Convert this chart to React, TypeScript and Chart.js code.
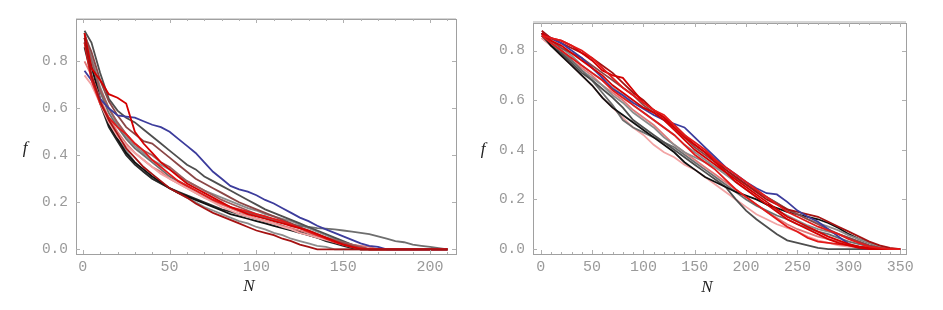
import React, { useEffect, useRef } from "react";
import { Chart, registerables } from "chart.js";
Chart.register(...registerables);

// ---------- data: left panel ----------
const LEFT_N = [1, 5, 10, 15, 20, 25, 30, 35, 40, 45, 50, 55, 60, 65, 70, 75, 80, 85, 90, 95, 100, 105, 110, 115, 120, 125, 130, 135, 140, 145, 150, 155, 160, 165, 170, 175, 180, 185, 190, 195, 200, 205, 210];
const LEFT_END = 210;
const LEFT_X_TICKS = [0, 50, 100, 150, 200];
const LEFT_Y_TICKS = [0, 0.2, 0.4, 0.6, 0.8];

const L_RED_BUMP = [0.92, 0.77, 0.72, 0.66, 0.645, 0.62, 0.5, 0.45, 0.41, 0.37, 0.34, 0.31, 0.28, 0.26, 0.24, 0.22, 0.2, 0.18, 0.165, 0.15, 0.14, 0.13, 0.12, 0.11, 0.1, 0.09, 0.08, 0.065, 0.05, 0.035, 0.02, 0.01, 0];
const L_RED = [0.88, 0.72, 0.62, 0.56, 0.52, 0.49, 0.45, 0.42, 0.38, 0.35, 0.32, 0.29, 0.27, 0.25, 0.23, 0.21, 0.195, 0.18, 0.17, 0.16, 0.15, 0.14, 0.13, 0.12, 0.105, 0.09, 0.075, 0.06, 0.045, 0.03, 0.02, 0.01, 0.005, 0];
const L_DARKRED = [0.9, 0.74, 0.63, 0.55, 0.49, 0.43, 0.39, 0.35, 0.32, 0.29, 0.26, 0.24, 0.22, 0.195, 0.175, 0.155, 0.14, 0.125, 0.11, 0.095, 0.08, 0.07, 0.06, 0.045, 0.035, 0.02, 0.01, 0];
const L_BLUE = [0.76, 0.72, 0.64, 0.6, 0.57, 0.565, 0.56, 0.545, 0.53, 0.52, 0.5, 0.47, 0.44, 0.41, 0.37, 0.33, 0.3, 0.27, 0.255, 0.245, 0.23, 0.21, 0.195, 0.175, 0.155, 0.135, 0.12, 0.1, 0.085, 0.07, 0.055, 0.04, 0.025, 0.015, 0.01, 0];
const L_BROWN = [0.91, 0.84, 0.72, 0.63, 0.57, 0.52, 0.49, 0.46, 0.45, 0.42, 0.39, 0.36, 0.33, 0.3, 0.28, 0.26, 0.24, 0.22, 0.2, 0.185, 0.17, 0.155, 0.14, 0.125, 0.11, 0.095, 0.08, 0.065, 0.05, 0.035, 0.025, 0.015, 0.005, 0];
const L_ROSY = [0.92, 0.8, 0.68, 0.6, 0.54, 0.49, 0.45, 0.42, 0.4, 0.37, 0.35, 0.32, 0.29, 0.27, 0.25, 0.23, 0.21, 0.195, 0.18, 0.165, 0.15, 0.14, 0.125, 0.115, 0.1, 0.09, 0.075, 0.06, 0.05, 0.04, 0.03, 0.02, 0.01, 0];
const L_DARKGRAY = [0.93, 0.88, 0.75, 0.64, 0.59, 0.56, 0.54, 0.51, 0.48, 0.45, 0.42, 0.39, 0.36, 0.34, 0.31, 0.29, 0.27, 0.25, 0.23, 0.21, 0.19, 0.17, 0.155, 0.14, 0.125, 0.11, 0.095, 0.08, 0.065, 0.05, 0.035, 0.02, 0.01, 0];
const L_TAILGRAY = [0.9, 0.8, 0.67, 0.58, 0.52, 0.47, 0.43, 0.4, 0.37, 0.34, 0.31, 0.29, 0.27, 0.25, 0.23, 0.21, 0.195, 0.18, 0.165, 0.155, 0.145, 0.135, 0.125, 0.115, 0.105, 0.1, 0.095, 0.09, 0.088, 0.085, 0.08, 0.075, 0.07, 0.065, 0.055, 0.045, 0.035, 0.03, 0.02, 0.015, 0.01, 0.005, 0];
const L_GRAY2 = [0.92, 0.82, 0.69, 0.6, 0.53, 0.48, 0.44, 0.41, 0.38, 0.36, 0.34, 0.315, 0.29, 0.27, 0.25, 0.235, 0.22, 0.205, 0.19, 0.175, 0.165, 0.15, 0.14, 0.13, 0.12, 0.105, 0.09, 0.075, 0.06, 0.045, 0.03, 0.02, 0.01, 0];
const L_PINK = [0.74, 0.7, 0.62, 0.54, 0.48, 0.44, 0.41, 0.38, 0.35, 0.32, 0.3, 0.28, 0.26, 0.24, 0.22, 0.2, 0.18, 0.165, 0.15, 0.14, 0.13, 0.12, 0.11, 0.095, 0.085, 0.07, 0.06, 0.05, 0.04, 0.03, 0.02, 0.01, 0];
const L_SALMON = [0.8, 0.74, 0.64, 0.56, 0.5, 0.45, 0.41, 0.38, 0.35, 0.33, 0.3, 0.28, 0.26, 0.24, 0.22, 0.205, 0.19, 0.175, 0.16, 0.145, 0.13, 0.12, 0.11, 0.1, 0.09, 0.08, 0.07, 0.055, 0.045, 0.035, 0.025, 0.02, 0.015, 0.01, 0];
const L_BLACK = [0.88, 0.78, 0.64, 0.53, 0.47, 0.41, 0.37, 0.34, 0.31, 0.285, 0.26, 0.24, 0.225, 0.21, 0.195, 0.18, 0.165, 0.15, 0.14, 0.13, 0.12, 0.11, 0.1, 0.09, 0.08, 0.07, 0.06, 0.05, 0.04, 0.03, 0.02, 0.01, 0];
const L_BLACK2 = [0.86, 0.74, 0.62, 0.52, 0.46, 0.4, 0.36, 0.33, 0.3, 0.28, 0.26, 0.245, 0.23, 0.215, 0.2, 0.185, 0.17, 0.16, 0.15, 0.14, 0.13, 0.12, 0.11, 0.1, 0.085, 0.075, 0.06, 0.05, 0.035, 0.025, 0.015, 0.005, 0];
const L_GRAY = [0.9, 0.78, 0.64, 0.54, 0.47, 0.42, 0.37, 0.33, 0.3, 0.28, 0.26, 0.24, 0.22, 0.2, 0.18, 0.165, 0.15, 0.135, 0.12, 0.11, 0.095, 0.085, 0.07, 0.06, 0.045, 0.035, 0.025, 0.015, 0.01, 0];

// ---------- data: right panel ----------
const RIGHT_N = [1, 10, 20, 30, 40, 50, 60, 70, 80, 90, 100, 110, 120, 130, 140, 150, 160, 170, 180, 190, 200, 210, 220, 230, 240, 250, 260, 270, 280, 290, 300, 310, 320, 330, 340, 350];
const RIGHT_END = 350;
const RIGHT_X_TICKS = [0, 50, 100, 150, 200, 250, 300, 350];
const RIGHT_Y_TICKS = [0, 0.2, 0.4, 0.6, 0.8];

const R_RED_BUMP = [0.87, 0.85, 0.84, 0.82, 0.79, 0.76, 0.72, 0.7, 0.69, 0.64, 0.59, 0.56, 0.53, 0.49, 0.45, 0.42, 0.39, 0.35, 0.31, 0.28, 0.25, 0.22, 0.19, 0.16, 0.13, 0.11, 0.09, 0.07, 0.05, 0.035, 0.02, 0.01, 0.005, 0];
const R_RED = [0.87, 0.84, 0.82, 0.79, 0.76, 0.73, 0.7, 0.66, 0.63, 0.6, 0.57, 0.55, 0.52, 0.48, 0.44, 0.4, 0.37, 0.34, 0.31, 0.27, 0.24, 0.21, 0.18, 0.15, 0.12, 0.1, 0.08, 0.06, 0.04, 0.025, 0.015, 0.005, 0];
const R_RED2 = [0.86, 0.83, 0.8, 0.77, 0.74, 0.71, 0.68, 0.64, 0.61, 0.58, 0.55, 0.52, 0.49, 0.46, 0.42, 0.38, 0.35, 0.32, 0.28, 0.24, 0.21, 0.18, 0.15, 0.12, 0.09, 0.07, 0.045, 0.03, 0.025, 0.02, 0.015, 0.01, 0.005, 0];
const R_RED3 = [0.86, 0.85, 0.84, 0.82, 0.8, 0.77, 0.73, 0.69, 0.65, 0.62, 0.59, 0.56, 0.54, 0.5, 0.46, 0.43, 0.4, 0.36, 0.33, 0.3, 0.27, 0.24, 0.21, 0.18, 0.15, 0.13, 0.11, 0.09, 0.075, 0.06, 0.04, 0.025, 0.01, 0.005, 0];
const R_BLUE = [0.87, 0.85, 0.83, 0.8, 0.77, 0.73, 0.69, 0.645, 0.62, 0.59, 0.565, 0.54, 0.52, 0.505, 0.49, 0.45, 0.41, 0.37, 0.33, 0.3, 0.27, 0.245, 0.225, 0.22, 0.19, 0.155, 0.13, 0.11, 0.08, 0.05, 0.02, 0.005, 0];
const R_DARKRED = [0.88, 0.85, 0.83, 0.81, 0.79, 0.77, 0.74, 0.71, 0.67, 0.63, 0.6, 0.56, 0.53, 0.5, 0.46, 0.42, 0.39, 0.36, 0.32, 0.29, 0.26, 0.23, 0.2, 0.18, 0.16, 0.15, 0.14, 0.13, 0.11, 0.09, 0.07, 0.05, 0.03, 0.015, 0.005, 0];
const R_BROWN = [0.87, 0.84, 0.81, 0.79, 0.77, 0.74, 0.71, 0.68, 0.65, 0.62, 0.58, 0.55, 0.52, 0.49, 0.45, 0.41, 0.38, 0.35, 0.32, 0.29, 0.26, 0.235, 0.21, 0.185, 0.16, 0.14, 0.12, 0.1, 0.08, 0.06, 0.045, 0.03, 0.015, 0.005, 0];
const R_GRAY_UP = [0.87, 0.84, 0.81, 0.78, 0.74, 0.71, 0.68, 0.65, 0.62, 0.58, 0.55, 0.52, 0.49, 0.46, 0.42, 0.39, 0.36, 0.33, 0.31, 0.285, 0.26, 0.23, 0.21, 0.185, 0.16, 0.14, 0.12, 0.105, 0.09, 0.075, 0.055, 0.04, 0.025, 0.01, 0];
const R_BLACK = [0.87, 0.82, 0.78, 0.74, 0.7, 0.66, 0.61, 0.57, 0.54, 0.51, 0.48, 0.45, 0.42, 0.39, 0.35, 0.32, 0.29, 0.27, 0.25, 0.23, 0.215, 0.2, 0.18, 0.165, 0.15, 0.14, 0.13, 0.12, 0.105, 0.085, 0.06, 0.04, 0.025, 0.01, 0];
const R_DARKGRAY = [0.86, 0.82, 0.79, 0.75, 0.71, 0.68, 0.645, 0.61, 0.57, 0.52, 0.49, 0.46, 0.43, 0.4, 0.37, 0.34, 0.31, 0.28, 0.25, 0.2, 0.155, 0.12, 0.09, 0.06, 0.035, 0.025, 0.015, 0.005, 0];
const R_DARKGRAY2 = [0.87, 0.83, 0.8, 0.76, 0.72, 0.68, 0.63, 0.58, 0.52, 0.49, 0.47, 0.45, 0.43, 0.41, 0.38, 0.35, 0.32, 0.29, 0.26, 0.23, 0.2, 0.175, 0.155, 0.135, 0.12, 0.1, 0.085, 0.07, 0.06, 0.045, 0.03, 0.02, 0.01, 0];
const R_GRAY = [0.86, 0.83, 0.8, 0.76, 0.72, 0.69, 0.66, 0.62, 0.59, 0.55, 0.52, 0.49, 0.45, 0.42, 0.39, 0.37, 0.35, 0.33, 0.3, 0.27, 0.24, 0.21, 0.18, 0.155, 0.135, 0.115, 0.095, 0.08, 0.07, 0.06, 0.045, 0.03, 0.015, 0.005, 0];
const R_PINK = [0.85, 0.82, 0.78, 0.74, 0.7, 0.66, 0.61, 0.57, 0.53, 0.49, 0.46, 0.42, 0.39, 0.37, 0.34, 0.32, 0.29, 0.26, 0.23, 0.2, 0.17, 0.14, 0.12, 0.1, 0.085, 0.07, 0.05, 0.035, 0.025, 0.015, 0.01, 0.005, 0];
const R_SALMON = [0.85, 0.82, 0.79, 0.76, 0.73, 0.7, 0.66, 0.63, 0.6, 0.56, 0.53, 0.5, 0.46, 0.42, 0.39, 0.36, 0.33, 0.3, 0.27, 0.24, 0.21, 0.18, 0.15, 0.125, 0.1, 0.08, 0.065, 0.05, 0.04, 0.03, 0.02, 0.01, 0.005, 0];

// ---------- colours ----------
const C = {
  red: "#d40000",
  red2: "#e21a1a",
  darkred: "#a51212",
  brown: "#8a4646",
  rosy: "#9c5c5c",
  blue: "#3c3c9c",
  black: "#111111",
  black2: "#2a2a2a",
  darkgray: "#4e4e4e",
  gray: "#6e6e6e",
  lightgray: "#8c8c8c",
  pink: "#f2a4a4",
  salmon: "#e07878",
};

const LEFT_SERIES: [number[], string][] = [
  [L_DARKRED, C.darkred],
  [L_RED_BUMP, C.red],
  [L_RED, C.red2],
  [L_BLUE, C.blue],
  [L_BROWN, C.brown],
  [L_ROSY, C.rosy],
  [L_PINK, C.pink],
  [L_SALMON, C.salmon],
  [L_BLACK, C.black],
  [L_DARKGRAY, C.darkgray],
  [L_TAILGRAY, C.gray],
  [L_GRAY2, C.lightgray],
  [L_BLACK2, C.black2],
  [L_GRAY, C.lightgray],
];

const RIGHT_SERIES: [number[], string][] = [
  [R_RED3, C.red2],
  [R_RED_BUMP, C.red],
  [R_RED, C.red],
  [R_RED2, C.red2],
  [R_BLUE, C.blue],
  [R_DARKRED, C.darkred],
  [R_BROWN, C.brown],
  [R_GRAY_UP, C.lightgray],
  [R_BLACK, C.black],
  [R_DARKGRAY, C.darkgray],
  [R_DARKGRAY2, C.gray],
  [R_GRAY, C.lightgray],
  [R_PINK, C.pink],
  [R_SALMON, C.salmon],
];

type PanelCfg = {
  width: number;
  height: number;
  grid: number[];
  end: number;
  series: [number[], string][];
  xMin: number;
  xMax: number;
  yMin: number;
  yMax: number;
  xTicks: number[];
  yTicks: number[];
  xMinor: number;
  padTop: number;
  padRight: number;
  yAxisWidth: number;
  xAxisHeight: number;
  fPos: [number, number];
  nPos: [number, number];
  topBand: number;
};

function buildDatasets(cfg: PanelCfg) {
  return cfg.series.map(([vals, color]) => {
    const pts = vals.map((v, i) => ({ x: cfg.grid[i], y: v }));
    const last = pts[pts.length - 1];
    if (last.x < cfg.end) pts.push({ x: cfg.end, y: 0 });
    return {
      data: pts,
      borderColor: color,
      borderWidth: 1.8,
      pointRadius: 0,
      fill: false,
      tension: 0,
    };
  });
}

function Panel({ cfg, left }: { cfg: PanelCfg; left: number }) {
  const ref = useRef<HTMLCanvasElement | null>(null);
  useEffect(() => {
    if (!ref.current) return;
    const framePlugin = {
      id: "frame",
      afterDraw(chart: any) {
        const ctx = chart.ctx;
        const a = chart.chartArea;
        const xs = chart.scales.x;
        const ys = chart.scales.y;
        ctx.save();
        if (cfg.topBand > 0) {
          ctx.fillStyle = "#d6d6d6";
          ctx.fillRect(a.left, a.top - cfg.topBand + 1, a.right - a.left, cfg.topBand);
        }
        ctx.strokeStyle = "#a0a0a0";
        ctx.lineWidth = 1;
        ctx.strokeRect(Math.round(a.left) + 0.5, Math.round(a.top) + 0.5, Math.round(a.right - a.left), Math.round(a.bottom - a.top));
        // inward ticks
        ctx.strokeStyle = "#b0b0b0";
        ctx.beginPath();
        for (const t of cfg.xTicks) {
          const px = Math.round(xs.getPixelForValue(t)) + 0.5;
          ctx.moveTo(px, a.bottom); ctx.lineTo(px, a.bottom - 4);
          ctx.moveTo(px, a.top); ctx.lineTo(px, a.top + 4);
        }
        for (let t = 0; t <= cfg.xMax; t += cfg.xMinor) {
          const px = Math.round(xs.getPixelForValue(t)) + 0.5;
          ctx.moveTo(px, a.bottom); ctx.lineTo(px, a.bottom - 2);
          ctx.moveTo(px, a.top); ctx.lineTo(px, a.top + 2);
        }
        for (const t of cfg.yTicks) {
          const py = Math.round(ys.getPixelForValue(t)) + 0.5;
          ctx.moveTo(a.left, py); ctx.lineTo(a.left + 4, py);
          ctx.moveTo(a.right, py); ctx.lineTo(a.right - 4, py);
        }
        ctx.stroke();
        // axis titles
        ctx.fillStyle = "#222";
        ctx.font = "italic 17px 'Liberation Serif', serif";
        ctx.textAlign = "center";
        ctx.textBaseline = "middle";
        ctx.fillText("f", cfg.fPos[0], cfg.fPos[1]);
        ctx.fillText("N", cfg.nPos[0], cfg.nPos[1]);
        ctx.restore();
      },
    };
    const chart = new Chart(ref.current, {
      type: "line",
      data: { datasets: buildDatasets(cfg) as any },
      options: {
        animation: false,
        responsive: false,
        events: [],
        layout: { padding: { left: 0, top: cfg.padTop, right: cfg.padRight, bottom: 0 } },
        plugins: { legend: { display: false }, tooltip: { enabled: false }, title: { display: false } },
        scales: {
          x: {
            type: "linear",
            min: cfg.xMin,
            max: cfg.xMax,
            grid: { display: false, drawTicks: false },
            border: { display: false },
            afterBuildTicks: (s: any) => { s.ticks = cfg.xTicks.map((v) => ({ value: v })); },
            afterFit: (s: any) => { s.height = cfg.xAxisHeight; },
            ticks: {
              color: "#9a9a9a",
              font: { family: "'Liberation Mono', monospace", size: 15 },
              padding: 4,
              maxRotation: 0,
              autoSkip: false,
              callback: (v: any) => String(v),
            },
          },
          y: {
            type: "linear",
            min: cfg.yMin,
            max: cfg.yMax,
            grid: { display: false, drawTicks: false },
            border: { display: false },
            afterBuildTicks: (s: any) => { s.ticks = cfg.yTicks.map((v) => ({ value: v })); },
            afterFit: (s: any) => { s.width = cfg.yAxisWidth; },
            ticks: {
              color: "#9a9a9a",
              font: { family: "'Liberation Mono', monospace", size: 14.5 },
              padding: 8,
              autoSkip: false,
              callback: (v: any) => Number(v).toFixed(1),
            },
          },
        },
      },
      plugins: [framePlugin],
    });
    return () => chart.destroy();
  }, [cfg]);
  return (
    <canvas
      ref={ref}
      width={cfg.width}
      height={cfg.height}
      style={{ position: "absolute", left, top: 0, width: cfg.width, height: cfg.height }}
    />
  );
}

const LEFT_CFG: PanelCfg = {
  width: 470,
  height: 310,
  grid: LEFT_N,
  end: LEFT_END,
  series: LEFT_SERIES,
  xMin: -3.9,
  xMax: 214.9,
  yMin: -0.02,
  yMax: 0.98,
  xTicks: LEFT_X_TICKS,
  yTicks: LEFT_Y_TICKS,
  xMinor: 10,
  padTop: 19,
  padRight: 14,
  yAxisWidth: 76,
  xAxisHeight: 56,
  fPos: [25, 149],
  nPos: [249, 287],
  topBand: 2,
};

const RIGHT_CFG: PanelCfg = {
  width: 473,
  height: 310,
  grid: RIGHT_N,
  end: RIGHT_END,
  series: RIGHT_SERIES,
  xMin: -7.5,
  xMax: 355.7,
  yMin: -0.02,
  yMax: 0.911,
  xTicks: RIGHT_X_TICKS,
  yTicks: RIGHT_Y_TICKS,
  xMinor: 10,
  padTop: 23,
  padRight: 37,
  yAxisWidth: 63,
  xAxisHeight: 56,
  fPos: [13, 150],
  nPos: [237, 288],
  topBand: 3,
};

export default function App() {
  return (
    <div style={{ position: "absolute", left: 0, top: 0, width: 943, height: 310, background: "#fff" }}>
      <Panel cfg={LEFT_CFG} left={0} />
      <Panel cfg={RIGHT_CFG} left={470} />
    </div>
  );
}
